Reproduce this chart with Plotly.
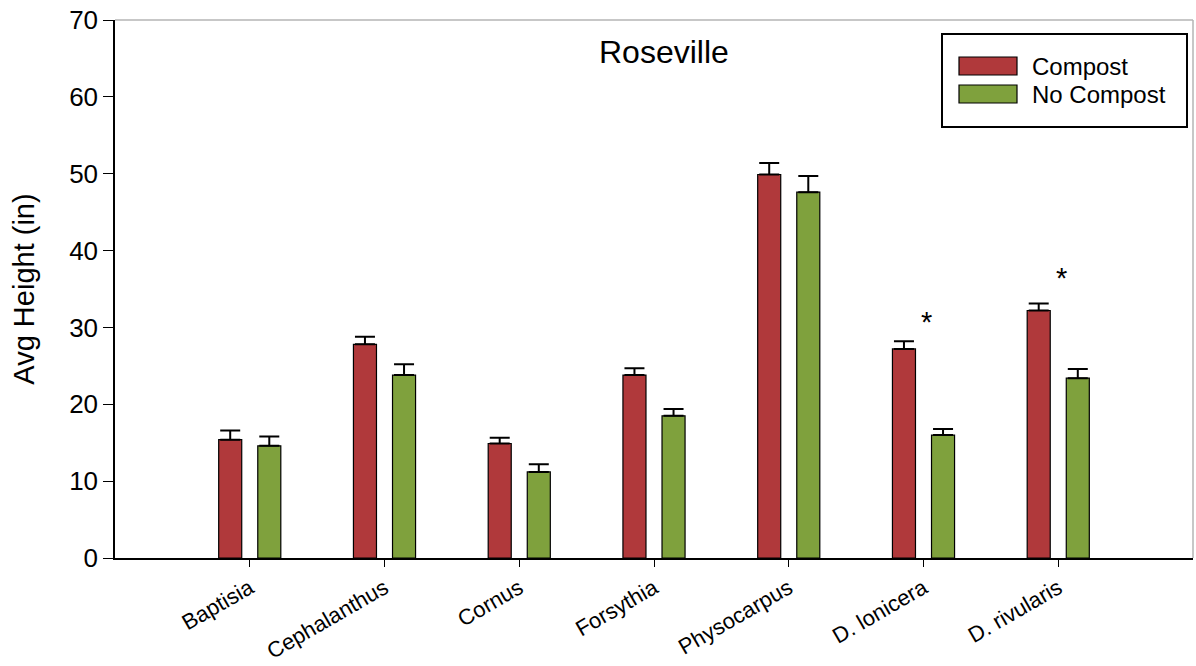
import plotly.graph_objects as go

# Average plant height at the Roseville site, with standard errors
categories = ["Baptisia", "Cephalanthus", "Cornus", "Forsythia",
              "Physocarpus", "D. lonicera", "D. rivularis"]
compost = [15.4, 27.8, 14.9, 23.8, 49.9, 27.2, 32.2]
compost_se = [1.2, 1.0, 0.75, 0.9, 1.5, 1.0, 0.9]
no_compost = [14.6, 23.8, 11.2, 18.5, 47.6, 16.0, 23.4]
no_compost_se = [1.2, 1.4, 1.0, 0.9, 2.1, 0.8, 1.2]

# significance markers: (category, height of the star)
stars = [("D. lonicera", 31.6), ("D. rivularis", 37.3)]

W, H = 1196, 666
L, R, T, B = 115, 3, 20, 108
PW, PH = W - L - R, H - T - B

FONT = "Liberation Sans, Arial, sans-serif"
RED = "#b0393b"
GREEN = "#7fa13d"

def px(x):
    return (x - L) / PW

def py(y):
    return (T + PH - y) / PH

fig = go.Figure()
bar_w = 0.171
for name, vals, se, color, off in [
    ("Compost", compost, compost_se, RED, -0.145),
    ("No Compost", no_compost, no_compost_se, GREEN, 0.145),
]:
    fig.add_trace(go.Bar(
        x=categories, y=vals, name=name,
        width=bar_w, offset=off - bar_w / 2,
        marker=dict(color=color, line=dict(color="black", width=1.2)),
        error_y=dict(type="data", array=se, arrayminus=[0] * len(se),
                     symmetric=False, color="black", thickness=2, width=10),
        showlegend=False,
    ))

annotations = [
    dict(text="Roseville", x=px(664), y=py(52), xref="paper", yref="paper",
         xanchor="center", yanchor="middle", showarrow=False,
         font=dict(size=32, color="black", family=FONT)),
]
for cat, h in stars:
    annotations.append(dict(text="*", x=cat, y=h, xref="x", yref="y",
                            xanchor="center", yanchor="middle",
                            xshift=3, yshift=-7, showarrow=False,
                            font=dict(size=29, color="black", family=FONT)))

shapes = [
    # light frame on top and right
    dict(type="line", xref="paper", yref="paper", x0=0, x1=1, y0=1, y1=1,
         line=dict(color="#b4b4b4", width=1.5)),
    dict(type="line", xref="paper", yref="paper", x0=1, x1=1, y0=0, y1=1,
         line=dict(color="#b4b4b4", width=1.5)),
    # legend box
    dict(type="rect", xref="paper", yref="paper",
         x0=px(942), x1=px(1187), y0=py(127), y1=py(34),
         line=dict(color="black", width=2), fillcolor="white"),
]
for label, color, cy in [("Compost", RED, 66), ("No Compost", GREEN, 94)]:
    shapes.append(dict(type="rect", xref="paper", yref="paper",
                       x0=px(959), x1=px(1017), y0=py(cy + 9), y1=py(cy - 9),
                       line=dict(color="black", width=1.2), fillcolor=color))
    annotations.append(dict(text=label, x=px(1030), y=py(cy), xref="paper",
                            yref="paper", xanchor="left", yanchor="middle",
                            showarrow=False,
                            font=dict(size=24, color="black", family=FONT)))

fig.update_layout(
    width=W, height=H,
    margin=dict(l=L, r=R, t=T, b=B),
    paper_bgcolor="white", plot_bgcolor="white",
    barmode="overlay",
    font=dict(family=FONT, color="black"),
    annotations=annotations, shapes=shapes,
    xaxis=dict(type="category", range=[-1, 7], showgrid=False,
               automargin=False,
               showline=True, linecolor="black", linewidth=1.5,
               ticks="outside", ticklen=7, tickwidth=1.2, tickcolor="black",
               tickangle=-30, tickfont=dict(size=22, family=FONT)),
    yaxis=dict(range=[0, 70], dtick=10, showgrid=False, zeroline=False,
               automargin=False,
               showline=True, linecolor="black", linewidth=1.5,
               ticks="outside", ticklen=10, tickwidth=1.2, tickcolor="black",
               tickfont=dict(size=26, family=FONT),
               title=dict(text="Avg Height (in)", standoff=26,
                          font=dict(size=29, family=FONT))),
)

fig.write_html("out.html")
